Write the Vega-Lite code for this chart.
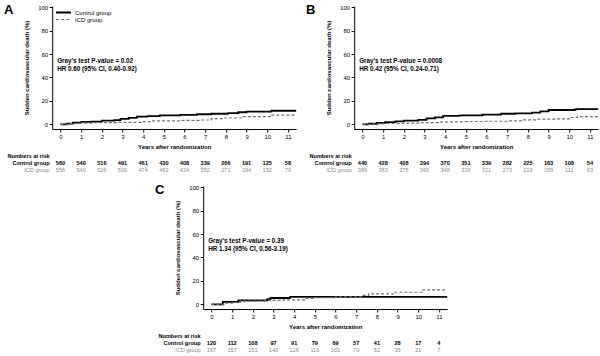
{
"$schema": "https://vega.github.io/schema/vega-lite/v6.json",
"background": "white",
"padding": {"left": 3, "top": 4, "right": 2, "bottom": 2},
"config": {
 "font": "Liberation Sans",
 "view": {"stroke": null},
 "axis": {"grid": false, "domainColor": "black", "tickColor": "black", "labelColor": "black", "titleColor": "black", "labelFontSize": 6, "titleFontSize": 6, "titleFontWeight": "bold", "tickSize": 3, "labelPadding": 1.5, "domainWidth": 1, "tickWidth": 1, "labelOverlap": false},
 "legend": {"labelFontSize": 6, "labelColor": "black"}
},
"datasets": {
 "curves": [
  {"panel":"A","group":"Control group","t":0,"v":0},{"panel":"A","group":"Control group","t":0.3,"v":0.6},{"panel":"A","group":"Control group","t":0.6,"v":1.5},{"panel":"A","group":"Control group","t":1,"v":2},{"panel":"A","group":"Control group","t":1.5,"v":2.3},{"panel":"A","group":"Control group","t":2,"v":3.2},{"panel":"A","group":"Control group","t":2.6,"v":3.5},{"panel":"A","group":"Control group","t":2.9,"v":4.6},{"panel":"A","group":"Control group","t":3.3,"v":5.5},{"panel":"A","group":"Control group","t":3.7,"v":6.5},{"panel":"A","group":"Control group","t":4.2,"v":7},{"panel":"A","group":"Control group","t":4.8,"v":7.6},{"panel":"A","group":"Control group","t":5.8,"v":8},{"panel":"A","group":"Control group","t":6.6,"v":8.6},{"panel":"A","group":"Control group","t":7.3,"v":9},{"panel":"A","group":"Control group","t":8.1,"v":9.6},{"panel":"A","group":"Control group","t":8.6,"v":10.3},{"panel":"A","group":"Control group","t":9,"v":10.9},{"panel":"A","group":"Control group","t":10.2,"v":11.6},{"panel":"A","group":"Control group","t":11.4,"v":11.6},
  {"panel":"A","group":"ICD group","t":0,"v":0},{"panel":"A","group":"ICD group","t":0.4,"v":0.6},{"panel":"A","group":"ICD group","t":0.8,"v":1.1},{"panel":"A","group":"ICD group","t":1.6,"v":1.4},{"panel":"A","group":"ICD group","t":2.8,"v":1.7},{"panel":"A","group":"ICD group","t":3.9,"v":2.3},{"panel":"A","group":"ICD group","t":4.4,"v":3},{"panel":"A","group":"ICD group","t":5.8,"v":3.4},{"panel":"A","group":"ICD group","t":6.8,"v":3.7},{"panel":"A","group":"ICD group","t":7.3,"v":4.9},{"panel":"A","group":"ICD group","t":7.9,"v":5.4},{"panel":"A","group":"ICD group","t":8.8,"v":6.5},{"panel":"A","group":"ICD group","t":10.2,"v":7.8},{"panel":"A","group":"ICD group","t":11.4,"v":7.8},
  {"panel":"B","group":"Control group","t":0,"v":0},{"panel":"B","group":"Control group","t":0.3,"v":0.5},{"panel":"B","group":"Control group","t":0.7,"v":1.2},{"panel":"B","group":"Control group","t":1.1,"v":1.8},{"panel":"B","group":"Control group","t":1.6,"v":2.5},{"panel":"B","group":"Control group","t":2,"v":3.2},{"panel":"B","group":"Control group","t":2.7,"v":3.8},{"panel":"B","group":"Control group","t":3.1,"v":5},{"panel":"B","group":"Control group","t":3.5,"v":6},{"panel":"B","group":"Control group","t":3.9,"v":7.2},{"panel":"B","group":"Control group","t":4.7,"v":7.7},{"panel":"B","group":"Control group","t":5.8,"v":8.3},{"panel":"B","group":"Control group","t":6.7,"v":9},{"panel":"B","group":"Control group","t":7.4,"v":9.4},{"panel":"B","group":"Control group","t":8.2,"v":10},{"panel":"B","group":"Control group","t":8.6,"v":11},{"panel":"B","group":"Control group","t":9,"v":12.2},{"panel":"B","group":"Control group","t":10.3,"v":13},{"panel":"B","group":"Control group","t":11.4,"v":13},
  {"panel":"B","group":"ICD group","t":0,"v":0},{"panel":"B","group":"ICD group","t":0.5,"v":0.4},{"panel":"B","group":"ICD group","t":1,"v":0.7},{"panel":"B","group":"ICD group","t":2,"v":1},{"panel":"B","group":"ICD group","t":2.8,"v":1.5},{"panel":"B","group":"ICD group","t":3.8,"v":2.1},{"panel":"B","group":"ICD group","t":4.8,"v":2.4},{"panel":"B","group":"ICD group","t":6,"v":2.6},{"panel":"B","group":"ICD group","t":7,"v":2.9},{"panel":"B","group":"ICD group","t":7.8,"v":3.8},{"panel":"B","group":"ICD group","t":8.4,"v":4.4},{"panel":"B","group":"ICD group","t":9.3,"v":4.7},{"panel":"B","group":"ICD group","t":10,"v":5.8},{"panel":"B","group":"ICD group","t":10.4,"v":6.5},{"panel":"B","group":"ICD group","t":11.4,"v":6.5},
  {"panel":"C","group":"Control group","t":0,"v":0},{"panel":"C","group":"Control group","t":0.55,"v":2},{"panel":"C","group":"Control group","t":1.3,"v":3.3},{"panel":"C","group":"Control group","t":2.7,"v":4.5},{"panel":"C","group":"Control group","t":2.85,"v":5.4},{"panel":"C","group":"Control group","t":3.8,"v":6.4},{"panel":"C","group":"Control group","t":11.4,"v":6.4},
  {"panel":"C","group":"ICD group","t":0,"v":0},{"panel":"C","group":"ICD group","t":0.6,"v":1},{"panel":"C","group":"ICD group","t":1,"v":1.7},{"panel":"C","group":"ICD group","t":1.4,"v":2.8},{"panel":"C","group":"ICD group","t":2.6,"v":3.3},{"panel":"C","group":"ICD group","t":3.5,"v":3.8},{"panel":"C","group":"ICD group","t":4.5,"v":5},{"panel":"C","group":"ICD group","t":5,"v":5.7},{"panel":"C","group":"ICD group","t":6,"v":6.3},{"panel":"C","group":"ICD group","t":7.3,"v":7.6},{"panel":"C","group":"ICD group","t":7.6,"v":8.9},{"panel":"C","group":"ICD group","t":8.8,"v":10.3},{"panel":"C","group":"ICD group","t":10.2,"v":12.3},{"panel":"C","group":"ICD group","t":11.4,"v":12.3}
 ],
 "notes": [
  {"panel":"A","t":-0.16,"v":54,"text":"Gray’s test P-value = 0.02"},{"panel":"A","t":-0.16,"v":47.3,"text":"HR 0.60 (95% CI, 0.40-0.92)"},
  {"panel":"B","t":-0.16,"v":54,"text":"Gray’s test P-value = 0.0008"},{"panel":"B","t":-0.16,"v":47.3,"text":"HR 0.42 (95% CI, 0.24-0.71)"},
  {"panel":"C","t":-0.16,"v":54,"text":"Gray’s test P-value = 0.39"},{"panel":"C","t":-0.16,"v":47.3,"text":"HR 1.34 (95% CI, 0.56-3.19)"}
 ],
 "risk": [
  {"panel":"A","row":"Control group","t":0,"n":560},{"panel":"A","row":"Control group","t":1,"n":540},{"panel":"A","row":"Control group","t":2,"n":516},{"panel":"A","row":"Control group","t":3,"n":491},{"panel":"A","row":"Control group","t":4,"n":461},{"panel":"A","row":"Control group","t":5,"n":430},{"panel":"A","row":"Control group","t":6,"n":408},{"panel":"A","row":"Control group","t":7,"n":339},{"panel":"A","row":"Control group","t":8,"n":266},{"panel":"A","row":"Control group","t":9,"n":191},{"panel":"A","row":"Control group","t":10,"n":125},{"panel":"A","row":"Control group","t":11,"n":58},
  {"panel":"A","row":"ICD group","t":0,"n":556},{"panel":"A","row":"ICD group","t":1,"n":540},{"panel":"A","row":"ICD group","t":2,"n":526},{"panel":"A","row":"ICD group","t":3,"n":500},{"panel":"A","row":"ICD group","t":4,"n":474},{"panel":"A","row":"ICD group","t":5,"n":452},{"panel":"A","row":"ICD group","t":6,"n":424},{"panel":"A","row":"ICD group","t":7,"n":352},{"panel":"A","row":"ICD group","t":8,"n":271},{"panel":"A","row":"ICD group","t":9,"n":194},{"panel":"A","row":"ICD group","t":10,"n":132},{"panel":"A","row":"ICD group","t":11,"n":70},
  {"panel":"B","row":"Control group","t":0,"n":440},{"panel":"B","row":"Control group","t":1,"n":428},{"panel":"B","row":"Control group","t":2,"n":408},{"panel":"B","row":"Control group","t":3,"n":394},{"panel":"B","row":"Control group","t":4,"n":370},{"panel":"B","row":"Control group","t":5,"n":351},{"panel":"B","row":"Control group","t":6,"n":339},{"panel":"B","row":"Control group","t":7,"n":282},{"panel":"B","row":"Control group","t":8,"n":225},{"panel":"B","row":"Control group","t":9,"n":163},{"panel":"B","row":"Control group","t":10,"n":108},{"panel":"B","row":"Control group","t":11,"n":54},
  {"panel":"B","row":"ICD group","t":0,"n":389},{"panel":"B","row":"ICD group","t":1,"n":383},{"panel":"B","row":"ICD group","t":2,"n":375},{"panel":"B","row":"ICD group","t":3,"n":360},{"panel":"B","row":"ICD group","t":4,"n":348},{"panel":"B","row":"ICD group","t":5,"n":336},{"panel":"B","row":"ICD group","t":6,"n":321},{"panel":"B","row":"ICD group","t":7,"n":273},{"panel":"B","row":"ICD group","t":8,"n":219},{"panel":"B","row":"ICD group","t":9,"n":159},{"panel":"B","row":"ICD group","t":10,"n":111},{"panel":"B","row":"ICD group","t":11,"n":63},
  {"panel":"C","row":"Control group","t":0,"n":120},{"panel":"C","row":"Control group","t":1,"n":112},{"panel":"C","row":"Control group","t":2,"n":108},{"panel":"C","row":"Control group","t":3,"n":97},{"panel":"C","row":"Control group","t":4,"n":91},{"panel":"C","row":"Control group","t":5,"n":79},{"panel":"C","row":"Control group","t":6,"n":69},{"panel":"C","row":"Control group","t":7,"n":57},{"panel":"C","row":"Control group","t":8,"n":41},{"panel":"C","row":"Control group","t":9,"n":28},{"panel":"C","row":"Control group","t":10,"n":17},{"panel":"C","row":"Control group","t":11,"n":4},
  {"panel":"C","row":"ICD group","t":0,"n":167},{"panel":"C","row":"ICD group","t":1,"n":157},{"panel":"C","row":"ICD group","t":2,"n":151},{"panel":"C","row":"ICD group","t":3,"n":140},{"panel":"C","row":"ICD group","t":4,"n":126},{"panel":"C","row":"ICD group","t":5,"n":116},{"panel":"C","row":"ICD group","t":6,"n":103},{"panel":"C","row":"ICD group","t":7,"n":79},{"panel":"C","row":"ICD group","t":8,"n":52},{"panel":"C","row":"ICD group","t":9,"n":35},{"panel":"C","row":"ICD group","t":10,"n":21},{"panel":"C","row":"ICD group","t":11,"n":7}
 ]
},
"center": true,
"spacing": 10,
"vconcat": [
 {"hconcat": [
  {"spacing": 2, "vconcat": [
   {"width": 244, "height": 123,
    "title": {"text": "A", "orient": "left", "anchor": "end", "angle": 0, "fontSize": 13, "fontWeight": "bold", "baseline": "top", "offset": 1},
    "layer": [
     {"data": {"name": "curves"}, "transform": [{"filter": "datum.panel === 'A'"}],
      "mark": {"type": "line", "interpolate": "step-after"},
      "encoding": {
       "x": {"field": "t", "type": "quantitative", "scale": {"domain": [-0.4, 11.4], "nice": false, "zero": false}, "axis": {"values": [0,1,2,3,4,5,6,7,8,9,10,11], "tickCount": 30, "format": "d", "title": "Years after randomization", "titlePadding": 4}},
       "y": {"field": "v", "type": "quantitative", "scale": {"domain": [-4, 101], "nice": false, "zero": false}, "axis": {"values": [0,20,40,60,80,100], "tickCount": 30, "format": "d", "title": "Sudden cardiovascular death (%)", "titlePadding": 8}},
       "color": {"field": "group", "type": "nominal", "scale": {"domain": ["Control group", "ICD group"], "range": ["#000000", "#707070"]}, "legend": {"title": null, "orient": "top-left", "offset": 3, "padding": 0, "symbolType": "stroke", "symbolSize": 225, "rowPadding": 0, "clipHeight": 7, "labelOffset": 3}},
       "strokeDash": {"field": "group", "type": "nominal", "scale": {"domain": ["Control group", "ICD group"], "range": [[1,0],[3,2]]}, "legend": {"title": null, "orient": "top-left", "offset": 3, "padding": 0, "symbolType": "stroke", "symbolSize": 225, "rowPadding": 0, "clipHeight": 7, "labelOffset": 3}},
       "strokeWidth": {"field": "group", "type": "nominal", "scale": {"domain": ["Control group", "ICD group"], "range": [1.8, 1.2]}, "legend": {"title": null, "orient": "top-left", "offset": 3, "padding": 0, "symbolType": "stroke", "symbolSize": 225, "rowPadding": 0, "clipHeight": 7, "labelOffset": 3}}
      }},
     {"data": {"name": "notes"}, "transform": [{"filter": "datum.panel === 'A'"}],
      "mark": {"type": "text", "align": "left", "baseline": "middle", "fontWeight": "bold", "fontSize": 6.3, "color": "black"},
      "encoding": {"x": {"field": "t", "type": "quantitative"}, "y": {"field": "v", "type": "quantitative"}, "text": {"field": "text"}}}
    ]},
   {"width": 244, "height": 21,
    "data": {"name": "risk"}, "transform": [{"filter": "datum.panel === 'A'"}],
    "encoding": {
     "x": {"field": "t", "type": "quantitative", "scale": {"domain": [-0.4, 11.4], "nice": false, "zero": false}, "axis": null},
     "y": {"field": "row", "type": "nominal", "scale": {"type": "point", "domain": ["Numbers at risk", "Control group", "ICD group"], "padding": 0.5}, "axis": {"title": null, "domain": false, "ticks": false, "labelFontSize": 5.6, "labelPadding": 3, "labelFontWeight": {"condition": {"test": "datum.value === 'ICD group'", "value": "normal"}, "value": "bold"}, "labelColor": {"condition": {"test": "datum.value === 'ICD group'", "value": "#8a8a8a"}, "value": "black"}}},
     "text": {"field": "n", "type": "nominal"}
    },
    "layer": [
     {"transform": [{"filter": "datum.row === 'Control group'"}], "mark": {"type": "text", "fontSize": 5.6, "fontWeight": "bold", "color": "black"}},
     {"transform": [{"filter": "datum.row === 'ICD group'"}], "mark": {"type": "text", "fontSize": 5.6, "color": "#8a8a8a"}}
    ]}
  ]},
  {"spacing": 2, "vconcat": [
   {"width": 244, "height": 123,
    "title": {"text": "B", "orient": "left", "anchor": "end", "angle": 0, "fontSize": 13, "fontWeight": "bold", "baseline": "top", "offset": 1},
    "layer": [
     {"data": {"name": "curves"}, "transform": [{"filter": "datum.panel === 'B'"}],
      "mark": {"type": "line", "interpolate": "step-after"},
      "encoding": {
       "x": {"field": "t", "type": "quantitative", "scale": {"domain": [-0.4, 11.4], "nice": false, "zero": false}, "axis": {"values": [0,1,2,3,4,5,6,7,8,9,10,11], "tickCount": 30, "format": "d", "title": "Years after randomization", "titlePadding": 4}},
       "y": {"field": "v", "type": "quantitative", "scale": {"domain": [-4, 101], "nice": false, "zero": false}, "axis": {"values": [0,20,40,60,80,100], "tickCount": 30, "format": "d", "title": "Sudden cardiovascular death (%)", "titlePadding": 8}},
       "color": {"field": "group", "type": "nominal", "scale": {"domain": ["Control group", "ICD group"], "range": ["#000000", "#707070"]}, "legend": {"title": null, "orient": "top-left", "offset": 3, "padding": 0, "symbolType": "stroke", "symbolSize": 225, "rowPadding": 0, "clipHeight": 7, "labelOffset": 3}},
       "strokeDash": {"field": "group", "type": "nominal", "scale": {"domain": ["Control group", "ICD group"], "range": [[1,0],[3,2]]}, "legend": {"title": null, "orient": "top-left", "offset": 3, "padding": 0, "symbolType": "stroke", "symbolSize": 225, "rowPadding": 0, "clipHeight": 7, "labelOffset": 3}},
       "strokeWidth": {"field": "group", "type": "nominal", "scale": {"domain": ["Control group", "ICD group"], "range": [1.8, 1.2]}, "legend": {"title": null, "orient": "top-left", "offset": 3, "padding": 0, "symbolType": "stroke", "symbolSize": 225, "rowPadding": 0, "clipHeight": 7, "labelOffset": 3}}
      }},
     {"data": {"name": "notes"}, "transform": [{"filter": "datum.panel === 'B'"}],
      "mark": {"type": "text", "align": "left", "baseline": "middle", "fontWeight": "bold", "fontSize": 6.3, "color": "black"},
      "encoding": {"x": {"field": "t", "type": "quantitative"}, "y": {"field": "v", "type": "quantitative"}, "text": {"field": "text"}}}
    ]},
   {"width": 244, "height": 21,
    "data": {"name": "risk"}, "transform": [{"filter": "datum.panel === 'B'"}],
    "encoding": {
     "x": {"field": "t", "type": "quantitative", "scale": {"domain": [-0.4, 11.4], "nice": false, "zero": false}, "axis": null},
     "y": {"field": "row", "type": "nominal", "scale": {"type": "point", "domain": ["Numbers at risk", "Control group", "ICD group"], "padding": 0.5}, "axis": {"title": null, "domain": false, "ticks": false, "labelFontSize": 5.6, "labelPadding": 3, "labelFontWeight": {"condition": {"test": "datum.value === 'ICD group'", "value": "normal"}, "value": "bold"}, "labelColor": {"condition": {"test": "datum.value === 'ICD group'", "value": "#8a8a8a"}, "value": "black"}}},
     "text": {"field": "n", "type": "nominal"}
    },
    "layer": [
     {"transform": [{"filter": "datum.row === 'Control group'"}], "mark": {"type": "text", "fontSize": 5.6, "fontWeight": "bold", "color": "black"}},
     {"transform": [{"filter": "datum.row === 'ICD group'"}], "mark": {"type": "text", "fontSize": 5.6, "color": "#8a8a8a"}}
    ]}
  ]}
 ], "spacing": 5},
 {"spacing": 2, "vconcat": [
   {"width": 244, "height": 123,
    "title": {"text": "C", "orient": "left", "anchor": "end", "angle": 0, "fontSize": 13, "fontWeight": "bold", "baseline": "top", "offset": 1},
    "layer": [
     {"data": {"name": "curves"}, "transform": [{"filter": "datum.panel === 'C'"}],
      "mark": {"type": "line", "interpolate": "step-after"},
      "encoding": {
       "x": {"field": "t", "type": "quantitative", "scale": {"domain": [-0.4, 11.4], "nice": false, "zero": false}, "axis": {"values": [0,1,2,3,4,5,6,7,8,9,10,11], "tickCount": 30, "format": "d", "title": "Years after randomization", "titlePadding": 4}},
       "y": {"field": "v", "type": "quantitative", "scale": {"domain": [-4, 101], "nice": false, "zero": false}, "axis": {"values": [0,20,40,60,80,100], "tickCount": 30, "format": "d", "title": "Sudden cardiovascular death (%)", "titlePadding": 8}},
       "color": {"field": "group", "type": "nominal", "scale": {"domain": ["Control group", "ICD group"], "range": ["#000000", "#707070"]}, "legend": {"title": null, "orient": "top-left", "offset": 3, "padding": 0, "symbolType": "stroke", "symbolSize": 225, "rowPadding": 0, "clipHeight": 7, "labelOffset": 3}},
       "strokeDash": {"field": "group", "type": "nominal", "scale": {"domain": ["Control group", "ICD group"], "range": [[1,0],[3,2]]}, "legend": {"title": null, "orient": "top-left", "offset": 3, "padding": 0, "symbolType": "stroke", "symbolSize": 225, "rowPadding": 0, "clipHeight": 7, "labelOffset": 3}},
       "strokeWidth": {"field": "group", "type": "nominal", "scale": {"domain": ["Control group", "ICD group"], "range": [1.8, 1.2]}, "legend": {"title": null, "orient": "top-left", "offset": 3, "padding": 0, "symbolType": "stroke", "symbolSize": 225, "rowPadding": 0, "clipHeight": 7, "labelOffset": 3}}
      }},
     {"data": {"name": "notes"}, "transform": [{"filter": "datum.panel === 'C'"}],
      "mark": {"type": "text", "align": "left", "baseline": "middle", "fontWeight": "bold", "fontSize": 6.3, "color": "black"},
      "encoding": {"x": {"field": "t", "type": "quantitative"}, "y": {"field": "v", "type": "quantitative"}, "text": {"field": "text"}}}
    ]},
   {"width": 244, "height": 21,
    "data": {"name": "risk"}, "transform": [{"filter": "datum.panel === 'C'"}],
    "encoding": {
     "x": {"field": "t", "type": "quantitative", "scale": {"domain": [-0.4, 11.4], "nice": false, "zero": false}, "axis": null},
     "y": {"field": "row", "type": "nominal", "scale": {"type": "point", "domain": ["Numbers at risk", "Control group", "ICD group"], "padding": 0.5}, "axis": {"title": null, "domain": false, "ticks": false, "labelFontSize": 5.6, "labelPadding": 3, "labelFontWeight": {"condition": {"test": "datum.value === 'ICD group'", "value": "normal"}, "value": "bold"}, "labelColor": {"condition": {"test": "datum.value === 'ICD group'", "value": "#8a8a8a"}, "value": "black"}}},
     "text": {"field": "n", "type": "nominal"}
    },
    "layer": [
     {"transform": [{"filter": "datum.row === 'Control group'"}], "mark": {"type": "text", "fontSize": 5.6, "fontWeight": "bold", "color": "black"}},
     {"transform": [{"filter": "datum.row === 'ICD group'"}], "mark": {"type": "text", "fontSize": 5.6, "color": "#8a8a8a"}}
    ]}
 ]}
]
}
